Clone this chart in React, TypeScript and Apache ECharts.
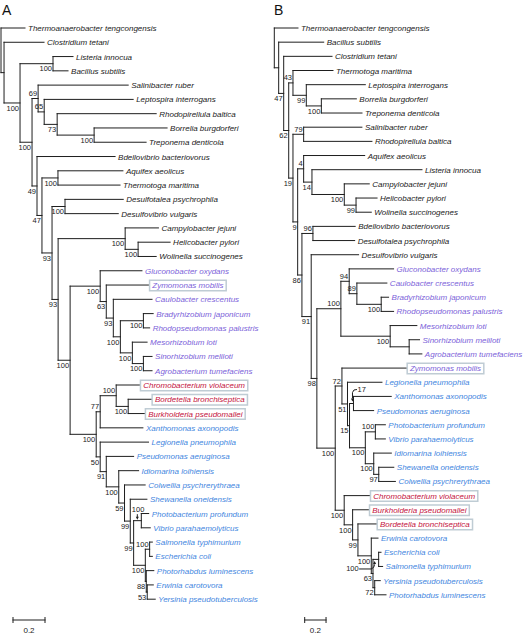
import React, { useEffect, useRef } from "react";
import * as echarts from "echarts";

// ---------- Tree A (Newick pieces: support values and branch lengths) ----------
const A_firmicutes = "(Listeria_innocua:0.125,Bacillus_subtilis:0.094)100";
const A_spiro = "(Salinibacter_ruber:0.563,(Leptospira_interrogans:0.556,(Rhodopirellula_baltica:0.619,(Borrelia_burgdorferi:0.456,Treponema_denticola:0.325)100:0.231)73:0.081)65:0.038)69";
const A_aquificae = "(Aquifex_aeolicus:0.406,Thermotoga_maritima:0.388)100";
const A_delta = "(Desulfotalea_psychrophila:0.364,Desulfovibrio_vulgaris:0.333)100";
const A_epsilon = "(Campylobacter_jejuni:0.208,(Helicobacter_pylori:0.200,Wolinella_succinogenes:0.113)100:0.081)100";
const A_alpha = "(Gluconobacter_oxydans:0.261,(Zymomonas_mobilis:0.269,(Caulobacter_crescentus:0.242,((Bradyrhizobium_japonicum:0.061,Rhodopseudomonas_palustris:0.039)100:0.144,(Mesorhizobium_loti:0.092,(Sinorhizobium_meliloti:0.054,Agrobacterium_tumefaciens:0.054)100:0.069)100:0.075)100:0.044)93:0.044)63:0.038)100";
const A_beta = "((Chromobacterium_violaceum:0.150,(Bordetella_bronchiseptica:0.148,Burkholderia_pseudomallei:0.106)100:0.075)100:0.100,Xanthomonas_axonopodis:0.267)77";
const A_gamma = "(Legionella_pneumophila:0.302,(Pseudomonas_aeruginosa:0.171,(Idiomarina_loihiensis:0.124,(Colwellia_psychrerythraea:0.129,(Shewanella_oneidensis:0.104,((Photobacterium_profundum:0.046,Vibrio_parahaemolyticus:0.056)100:0.048,((Salmonella_typhimurium:0.017,Escherichia_coli:0.017)100:0.027,(Photorhabdus_luminescens:0.047,(Erwinia_carotovora:0.038,Yersinia_pseudotuberculosis:0.050)53:0.006)88:0.006)100:0.073)99:0.021)99:0.036)59:0.036)100:0.078)91:0.038)50";
const A_N11 = `(${A_alpha}:0.188,(${A_beta}:0.025,${A_gamma}:0.025)100:0.163)100`;
const A_N10 = `(${A_epsilon}:0.419,${A_N11}:0.075)93`;
const A_N9 = `(${A_delta}:0.081,${A_N10}:0.038)93`;
const A_N7 = `(${A_aquificae}:0.100,${A_N9}:0.063)47`;
const A_N6 = `(Bdellovibrio_bacteriovorus:0.488,${A_N7}:0.031)49`;
const A_N4 = `(${A_spiro}:0.038,${A_N6}:0.031)100`;
const A_N2 = `(${A_firmicutes}:0.206,${A_N4}:0.075)100`;
const treeA = `(Thermoanaerobacter_tengcongensis:0.150,(Clostridium_tetani:0.250,${A_N2}:0.100):0.019);`;

// ---------- Tree B ----------
const B_spiro = "(Thermotoga_maritima:0.375,(Leptospira_interrogans:0.553,(Borrelia_burgdorferi:0.328,Treponema_denticola:0.381)100:0.141)99:0.125)43";
const B_bacteroid = "(Salinibacter_ruber:0.546,Rhodopirellula_baltica:0.640)79";
const B_epsilon = "(Campylobacter_jejuni:0.234,(Helicobacter_pylori:0.197,Wolinella_succinogenes:0.143)99:0.110)100";
const B_aquifex = `(Aquifex_aeolicus:0.572,(Listeria_innocua:1.031,${B_epsilon}:0.303)14:0.078)4`;
const B_delta = "(Bdellovibrio_bacteriovorus:0.396,Desulfotalea_psychrophila:0.391)96";
const B_alpha = "((Gluconobacter_oxydans:0.416,(Caulobacter_crescentus:0.281,(Bradyrhizobium_japonicum:0.069,Rhodopseudomonas_palustris:0.116)100:0.228)89:0.072)94:0.078,(Mesorhizobium_loti:0.250,(Sinorhizobium_meliloti:0.097,Agrobacterium_tumefaciens:0.119):0.178)100:0.462)100";
const B_gamma = "(Legionella_pneumophila:0.323,((Xanthomonas_axonopodis:0.354,Pseudomonas_aeruginosa:0.189)17:0.037,((Photobacterium_profundum:0.094,Vibrio_parahaemolyticus:0.094)100:0.094,(Idiomarina_loihiensis:0.165,(Shewanella_oneidensis:0.141,Colwellia_psychrerythraea:0.156)97:0.047)100:0.079)100:0.148)15:0.019)51";
const B_entero = "(Erwinia_carotovora:0.063,((Escherichia_coli:0.022,Salmonella_typhimurium:0.037)100:0.053,(Yersinia_pseudotuberculosis:0.052,Photorhabdus_luminescens:0.106)72:0.016)63:0.016)100";
const B_beta = `(Chromobacterium_violaceum:0.244,(Burkholderia_pseudomallei:0.156,(Bordetella_bronchiseptica:0.178,${B_entero}:0.125)99:0.050)100:0.079)100`;
const B_ZG = `((Zymomonas_mobilis:0.609,${B_gamma}:0.052)72:0.063,${B_beta}:0.084)100`;
const B_M98 = `(${B_alpha}:0.225,${B_ZG}:0.172)98`;
const B_M86 = `(${B_delta}:0.103,(Desulfovibrio_vulgaris:0.444,${B_M98}:0.053)91:0.087)86`;
const B_M19 = `(${B_bacteroid}:0.100,(${B_aquifex}:0.056,${B_M86}:0.040)9:0.044)19`;
const treeB = `(Thermoanaerobacter_tengcongensis:0.222,(Bacillus_subtilis:0.422,(Clostridium_tetani:0.453,(${B_spiro}:0.040,${B_M19}:0.040)62:0.047)47:0.047):0.041);`;

// ---------- Groups ----------
const alphaSpecies = ["Gluconobacter oxydans", "Zymomonas mobilis", "Caulobacter crescentus", "Bradyrhizobium japonicum", "Rhodopseudomonas palustris", "Mesorhizobium loti", "Sinorhizobium meliloti", "Agrobacterium tumefaciens"];
const betaSpecies = ["Chromobacterium violaceum", "Bordetella bronchiseptica", "Burkholderia pseudomallei"];
const gammaSpecies = ["Xanthomonas axonopodis", "Legionella pneumophila", "Pseudomonas aeruginosa", "Idiomarina loihiensis", "Colwellia psychrerythraea", "Shewanella oneidensis", "Photobacterium profundum", "Vibrio parahaemolyticus", "Salmonella typhimurium", "Escherichia coli", "Photorhabdus luminescens", "Erwinia carotovora", "Yersinia pseudotuberculosis"];
const boxedSpecies = ["Zymomonas mobilis", "Chromobacterium violaceum", "Bordetella bronchiseptica", "Burkholderia pseudomallei"];

// support labels drawn above their branch (node key: first leaf > last leaf)
const aboveA = ["Salinibacter ruber>Treponema denticola", "Leptospira interrogans>Treponema denticola", "Chromobacterium violaceum>Xanthomonas axonopodis", "Chromobacterium violaceum>Burkholderia pseudomallei", "Salmonella typhimurium>Escherichia coli"];
const aboveB = ["Thermotoga maritima>Treponema denticola", "Salinibacter ruber>Rhodopirellula baltica", "Aquifex aeolicus>Wolinella succinogenes", "Bdellovibrio bacteriovorus>Desulfotalea psychrophila", "Gluconobacter oxydans>Agrobacterium tumefaciens", "Gluconobacter oxydans>Rhodopseudomonas palustris", "Caulobacter crescentus>Rhodopseudomonas palustris", "Zymomonas mobilis>Colwellia psychrerythraea", "Photobacterium profundum>Vibrio parahaemolyticus"];
const calloutA: Record<string, string> = { "Photobacterium profundum>Vibrio parahaemolyticus": "drop" };
const calloutB: Record<string, string> = { "Xanthomonas axonopodis>Pseudomonas aeruginosa": "hook", "Escherichia coli>Salmonella typhimurium": "leader" };

const scaleBarLength = 0.2;
const scaleBarLabel = "0.2";

const FONT = '"Liberation Sans", Arial, Helvetica, sans-serif';
const LINE = "#1e1e1e";
const COL = { other: "#1a1a1a", alpha: "#7b61d9", beta: "#c4123c", gamma: "#3f86e0" };

type TNode = { name: string; len: number; children: TNode[]; x: number; px: number; y: number; y1: number; y2: number; first: string; last: string; isRoot?: boolean };

function parseNewick(s: string): TNode {
  let i = 0;
  function parseNode(): TNode {
    const node: TNode = { name: "", len: 0, children: [], x: 0, px: 0, y: 0, y1: 0, y2: 0, first: "", last: "" };
    if (s[i] === "(") {
      i++;
      node.children.push(parseNode());
      while (s[i] === ",") { i++; node.children.push(parseNode()); }
      i++;
    }
    let lab = "";
    while (i < s.length && !":,);".includes(s[i])) lab += s[i++];
    node.name = lab.replace(/_/g, " ");
    if (s[i] === ":") {
      i++;
      let num = "";
      while (i < s.length && /[0-9.eE-]/.test(s[i])) num += s[i++];
      node.len = parseFloat(num);
    }
    return node;
  }
  const r = parseNode();
  r.isRoot = true;
  return r;
}

function layout(nw: string): TNode[] {
  const root = parseNewick(nw);
  const out: TNode[] = [];
  let leaf = 0;
  function walk(n: TNode, parentX: number) {
    n.px = parentX;
    n.x = n.isRoot ? parentX : parentX + n.len;
    out.push(n);
    if (n.children.length) {
      n.children.forEach((c) => walk(c, n.x));
      const f = n.children[0], l = n.children[n.children.length - 1];
      n.y1 = f.y; n.y2 = l.y; n.y = (f.y + l.y) / 2;
      n.first = f.first; n.last = l.last;
    } else {
      n.y = leaf++; n.y1 = n.y; n.y2 = n.y;
      n.first = n.name; n.last = n.name;
    }
  }
  walk(root, 0);
  return out;
}

function leafColor(name: string) {
  if (alphaSpecies.includes(name)) return COL.alpha;
  if (betaSpecies.includes(name)) return COL.beta;
  if (gammaSpecies.includes(name)) return COL.gamma;
  return COL.other;
}

function seg(x1: number, y1: number, x2: number, y2: number) {
  return { type: "line", shape: { x1, y1, x2, y2 }, style: { stroke: LINE, lineWidth: 1, lineCap: "square" } };
}
function supText(text: string, x: number, y: number, align = "right") {
  return { type: "text", x, y, style: { text, fill: "#1a1a1a", fontSize: 7.5, fontFamily: FONT, align, verticalAlign: "middle" } };
}
function head(x: number, y: number, dir: number) {
  // dir: 1 = pointing down, -1 = pointing up
  return { type: "polygon", shape: { points: [[x - 1.5, y - 3 * dir], [x + 1.5, y - 3 * dir], [x, y]] }, style: { fill: LINE } };
}

function makeRender(nodes: TNode[], above: string[], callouts: Record<string, string>) {
  return (params: any, api: any) => {
    const n = nodes[params.dataIndex];
    const p = api.coord([api.value(0), api.value(1)]);
    const pp = api.coord([api.value(2), api.value(1)]);
    const children: any[] = [];
    if (!n.isRoot) children.push(seg(pp[0], p[1], p[0], p[1]));
    if (n.children.length) {
      const a = api.coord([api.value(0), api.value(3)]);
      const b = api.coord([api.value(0), api.value(4)]);
      children.push(seg(p[0], a[1], p[0], b[1]));
      if (n.name) {
        const key = `${n.first}>${n.last}`;
        const c = callouts[key];
        const x = p[0], y = p[1];
        if (c === "drop") {
          children.push(supText(n.name, x + 3, y - 11.3));
          children.push({ type: "polyline", shape: { points: [[x - 4, y - 6.5], [x - 4, y - 3]] }, style: { stroke: LINE, lineWidth: 1, fill: "none" } });
          children.push(head(x - 4, y - 1, 1));
        } else if (c === "hook") {
          children.push(supText(n.name, x + 4, y - 14, "left"));
          children.push({ type: "polyline", shape: { points: [[x + 3.5, y - 14], [x + 0.5, y - 13.5], [x - 1, y - 11], [x - 1, y - 5]] }, style: { stroke: LINE, lineWidth: 1, fill: "none" } });
          children.push(head(x - 1, y - 2, 1));
        } else if (c === "leader") {
          children.push(supText(n.name, x - 20, y + 9.6));
          children.push({ type: "polyline", shape: { points: [[x - 19.5, y + 9.6], [x - 7.5, y + 9.6], [x - 5, y + 8], [x - 4, y + 5]] }, style: { stroke: LINE, lineWidth: 1, fill: "none" } });
          children.push(head(x - 4, y + 1.5, -1));
        } else {
          const up = above.includes(key);
          children.push(supText(n.name, x - 1, y + (up ? -5 : 5.2)));
        }
      }
    } else {
      const boxed = boxedSpecies.includes(n.name);
      const style: any = { text: n.name, fill: leafColor(n.name), fontSize: 8, fontStyle: "italic", fontFamily: FONT, align: "left", verticalAlign: "middle" };
      if (boxed) {
        style.backgroundColor = "#ffffff";
        style.borderColor = "#bfccd4";
        style.borderWidth = 1.5;
        style.padding = [1, 2, 0, 2];
      }
      children.push({ type: "text", x: p[0] + (boxed ? 1 : 3), y: p[1] + 0.5, style });
    }
    return { type: "group", children };
  };
}

function makeScaleBar(x0: number, y: number) {
  return (_params: any, api: any) => {
    const o = api.coord([0, 0]);
    const e = api.coord([api.value(0), 0]);
    const w = e[0] - o[0];
    return {
      type: "group",
      children: [
        seg(x0, y, x0 + w, y),
        seg(x0, y - 2.5, x0, y + 2.5),
        seg(x0 + w, y - 2.5, x0 + w, y + 2.5),
        { type: "text", x: x0 + w / 2, y: y + 10, style: { text: scaleBarLabel, fill: "#1a1a1a", fontSize: 8, fontFamily: FONT, align: "center", verticalAlign: "middle" } },
      ],
    };
  };
}

export default function App() {
  const ref = useRef<HTMLDivElement>(null);
  useEffect(() => {
    if (!ref.current) return;
    const chart = echarts.init(ref.current, undefined, { renderer: "svg" });
    const nodesA = layout(treeA);
    const nodesB = layout(treeB);
    const toData = (ns: TNode[]) => ns.map((n) => [n.x, n.y, n.px, n.y1, n.y2]);
    const axisX = (g: number) => ({ type: "value", gridIndex: g, min: 0, max: 1, show: false });
    const axisY = (g: number) => ({ type: "value", gridIndex: g, min: 0, max: 40, inverse: true, show: false });
    chart.setOption({
      animation: false,
      grid: [
        { left: 1, top: 28, width: 160, height: 571.2 },
        { left: 274.3, top: 28, width: 106.7, height: 566.8 },
      ],
      xAxis: [axisX(0), axisX(1)],
      yAxis: [axisY(0), axisY(1)],
      graphic: [
        { type: "text", left: 2, top: 3, style: { text: "A", fontSize: 14, fontFamily: FONT, fill: "#111" } },
        { type: "text", left: 274, top: 3, style: { text: "B", fontSize: 14, fontFamily: FONT, fill: "#111" } },
      ],
      series: [
        { type: "custom", xAxisIndex: 0, yAxisIndex: 0, clip: false, silent: true, data: toData(nodesA), renderItem: makeRender(nodesA, aboveA, calloutA) },
        { type: "custom", xAxisIndex: 1, yAxisIndex: 1, clip: false, silent: true, data: toData(nodesB), renderItem: makeRender(nodesB, aboveB, calloutB) },
        { type: "custom", xAxisIndex: 0, yAxisIndex: 0, clip: false, silent: true, data: [[scaleBarLength, 0]], renderItem: makeScaleBar(13, 620) },
        { type: "custom", xAxisIndex: 1, yAxisIndex: 1, clip: false, silent: true, data: [[scaleBarLength, 0]], renderItem: makeScaleBar(304.7, 620) },
      ],
    });
    return () => chart.dispose();
  }, []);
  return <div ref={ref} style={{ position: "absolute", left: 0, top: 0, width: 525, height: 636, background: "#fff" }} />;
}
